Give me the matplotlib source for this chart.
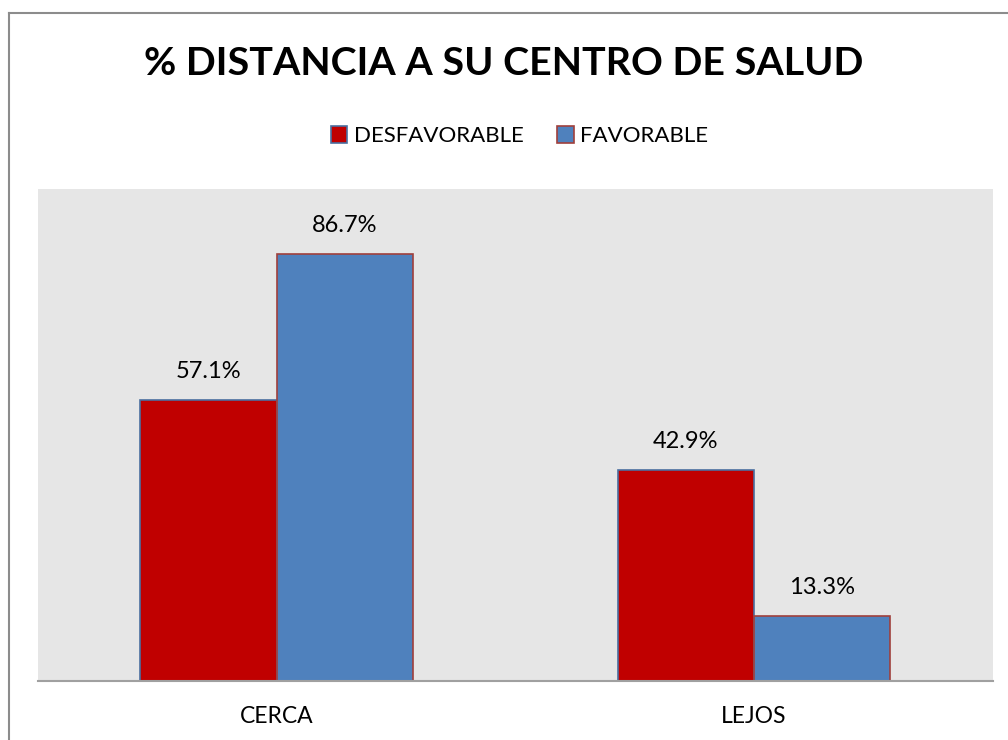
import matplotlib.pyplot as plt
from matplotlib.lines import Line2D
from matplotlib.patches import Patch
import numpy as np

categories = ["CERCA", "LEJOS"]
series_names = ["DESFAVORABLE", "FAVORABLE"]
desfavorable = [57.1, 42.9]
favorable = [86.7, 13.3]

plt.rcParams["font.family"] = ["Lato", "DejaVu Sans"]

fig = plt.figure(figsize=(10.08, 7.40), dpi=100)
ax = fig.add_axes([0.0377, 0.0797, 0.9472, 0.6649])

x = np.arange(len(categories))
w = 1 / 3.5
red_bars = ax.bar(x - w / 2, desfavorable, w, color="#C00000",
                  edgecolor="#4A6FA0", linewidth=1.2, label=series_names[0])
blue_bars = ax.bar(x + w / 2, favorable, w, color="#4F81BD",
                   edgecolor="#A0403C", linewidth=1.2, label=series_names[1])

for bars, vals in [(red_bars, desfavorable), (blue_bars, favorable)]:
    for b, v in zip(bars, vals):
        ax.annotate(f"{v:.1f}%", (b.get_x() + b.get_width() / 2, v),
                    xytext=(0, 13), textcoords="offset points",
                    ha="center", va="bottom", fontsize=17, color="#000000")

ax.set_xlim(-0.5, 1.5)
ax.set_ylim(0, 100)
ax.set_facecolor("#E6E6E6")
for side in ["left", "right", "top"]:
    ax.spines[side].set_visible(False)
ax.spines["bottom"].set_color("#A0A0A0")
ax.spines["bottom"].set_linewidth(1.5)
ax.set_yticks([])
ax.set_xticks(x)
ax.set_xticklabels(categories, fontsize=16.5)
ax.tick_params(axis="x", length=0, pad=18)

fig.text(0.5, 0.914, "% DISTANCIA A SU CENTRO DE SALUD", ha="center",
         va="center", fontsize=28.4, fontweight="bold")

handles = [Patch(facecolor="#C00000", edgecolor="#4A6FA0", linewidth=1.2),
           Patch(facecolor="#4F81BD", edgecolor="#A0403C", linewidth=1.2)]
fig.legend(handles, series_names, loc="center", bbox_to_anchor=(0.5155, 0.816),
           ncol=2, frameon=False, fontsize=16, handlelength=0.75,
           handleheight=0.75, handletextpad=0.3, columnspacing=1.5)

# chart frame (only left and top edges visible)
fig.add_artist(Line2D([0.0085, 0.0085], [0, 0.9818], transform=fig.transFigure,
                      color="#8C8C8C", linewidth=1.5))
fig.add_artist(Line2D([0.0085, 1.0], [0.9818, 0.9818], transform=fig.transFigure,
                      color="#8C8C8C", linewidth=1.5))

fig.savefig("out.png", dpi=100)
